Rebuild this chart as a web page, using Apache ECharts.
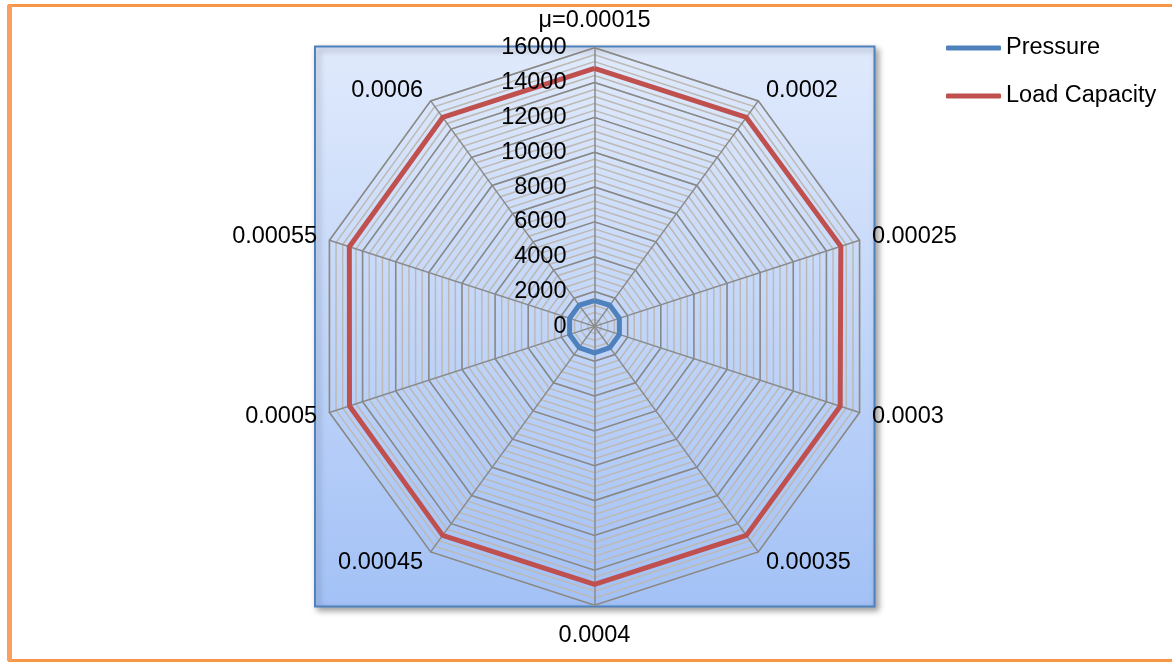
<!DOCTYPE html>
<html>
<head>
<meta charset="utf-8">
<script src="https://cdn.jsdelivr.net/npm/echarts@6/dist/echarts.min.js"></script>
<style>
  html, body { margin: 0; padding: 0; background: #ffffff; }
  #chart { width: 1172px; height: 663px; }
</style>
</head>
<body>
<div id="chart"></div>
<script>
// Friction coefficient categories, listed clockwise from the top spoke
const categories = ['μ=0.00015', '0.0002', '0.00025', '0.0003', '0.00035',
                    '0.0004', '0.00045', '0.0005', '0.00055', '0.0006'];
const pressure = [1480, 1500, 1500, 1500, 1500, 1520, 1500, 1500, 1500, 1500];
const loadCapacity = [14820, 14830, 14870, 14830, 14830, 14810, 14830, 14790, 14800, 14830];
const axisTicks = ['0', '2000', '4000', '6000', '8000', '10000', '12000', '14000', '16000'];
const axisMax = 16000;
const majorStep = 2000;
const minorStep = 400;

// ECharts lays radar spokes counter-clockwise, so keep the first one on top
// and reverse the rest to read clockwise.
function clockwise(arr) {
  return [arr[0]].concat(arr.slice(1).reverse());
}

const cx = 594.5, cy = 326.4, R = 278.7;
const FONT = '"Liberation Sans", Arial, sans-serif';
const FS = 23.5;

const indicators = clockwise(categories).map(n => ({ name: n, min: 0, max: axisMax }));

const chart = echarts.init(document.getElementById('chart'), null, { renderer: 'canvas' });

chart.setOption({
  animation: false,
  textStyle: { fontFamily: FONT },
  graphic: [
    // outer frame
    {
      type: 'rect', z: -20,
      shape: { x: 9.5, y: 5.5, width: 1180, height: 655 },
      style: { fill: '#ffffff', stroke: '#f79646', lineWidth: 3 }
    },
    {
      type: 'line', z: -19,
      shape: { x1: 9.5, y1: 5, x2: 9.5, y2: 661 },
      style: { stroke: '#f9a060', lineWidth: 5 }
    },
    // plot area with gradient fill
    {
      type: 'rect', z: -10,
      shape: { x: 315, y: 46.5, width: 559.5, height: 560 },
      style: {
        fill: new echarts.graphic.LinearGradient(0, 0, 0, 1, [
          { offset: 0, color: '#e0eafc' },
          { offset: 1, color: '#a3c1f6' }
        ]),
        stroke: '#4f81bd', lineWidth: 2,
        shadowBlur: 6, shadowOffsetX: 3, shadowOffsetY: 3,
        shadowColor: 'rgba(0,0,0,0.35)'
      }
    }
  ],
  legend: {
    orient: 'vertical',
    left: 946, top: 36, padding: 0,
    itemWidth: 55, itemHeight: 5,
    itemGap: 24,
    icon: 'roundRect',
    textStyle: { fontSize: FS, color: '#000000', fontFamily: FONT, lineHeight: 24 },
    data: ['Pressure', 'Load Capacity']
  },
  // value axis drawn along the top spoke to carry the tick labels
  grid: { left: cx, top: cy - R, width: 1, height: R, z: 10 },
  xAxis: { type: 'value', show: false },
  yAxis: {
    type: 'value', min: 0, max: axisMax, interval: majorStep, z: 10,
    axisLine: { show: false }, axisTick: { show: false }, splitLine: { show: false },
    axisLabel: {
      margin: 28, fontSize: FS, color: '#000000', fontFamily: FONT,
      formatter: (v) => axisTicks[Math.round(v / majorStep)]
    }
  },
  radar: [
    // minor grid
    {
      center: [cx, cy], radius: R, startAngle: 90, shape: 'polygon',
      splitNumber: axisMax / minorStep,
      indicator: indicators,
      axisName: { show: false },
      axisLine: { show: false },
      axisLabel: { show: false },
      axisTick: { show: false },
      splitArea: { show: false },
      splitLine: { lineStyle: { color: '#bdb9b2', width: 1.5 } }
    },
    // major grid, spokes and category names
    {
      center: [cx, cy], radius: R, startAngle: 90, shape: 'polygon',
      splitNumber: axisMax / majorStep,
      indicator: indicators,
      nameGap: 13,
      axisName: {
        color: '#000000', fontSize: FS, fontFamily: FONT,
        formatter: (name) => {
          if (name === categories[0]) return '{t|' + name + '}';
          if (name === categories[5]) return '{b|' + name + '}';
          return '{n|' + name + '}';
        },
        rich: {
          t: { fontSize: FS, fontFamily: FONT, color: '#000', padding: [0, 0, 2, 0] },
          b: { fontSize: FS, fontFamily: FONT, color: '#000', padding: [5, 0, 0, 0] },
          n: { fontSize: FS, fontFamily: FONT, color: '#000' }
        }
      },
      axisLine: { show: true, lineStyle: { color: '#8a8a8a', width: 1.5 } },
      axisLabel: { show: false },
      axisTick: { show: false },
      splitArea: { show: false },
      splitLine: { lineStyle: { color: '#888888', width: 1.5 } }
    }
  ],
  series: [
    {
      name: 'Pressure', type: 'radar', radarIndex: 1, symbol: 'none',
      itemStyle: { color: '#4f81bd' },
      lineStyle: { color: '#4f81bd', width: 5 },
      data: [{ name: 'Pressure', value: clockwise(pressure) }]
    },
    {
      name: 'Load Capacity', type: 'radar', radarIndex: 1, symbol: 'none',
      itemStyle: { color: '#c0504d' },
      lineStyle: { color: '#c0504d', width: 5 },
      data: [{ name: 'Load Capacity', value: clockwise(loadCapacity) }]
    }
  ]
});
</script>
</body>
</html>
